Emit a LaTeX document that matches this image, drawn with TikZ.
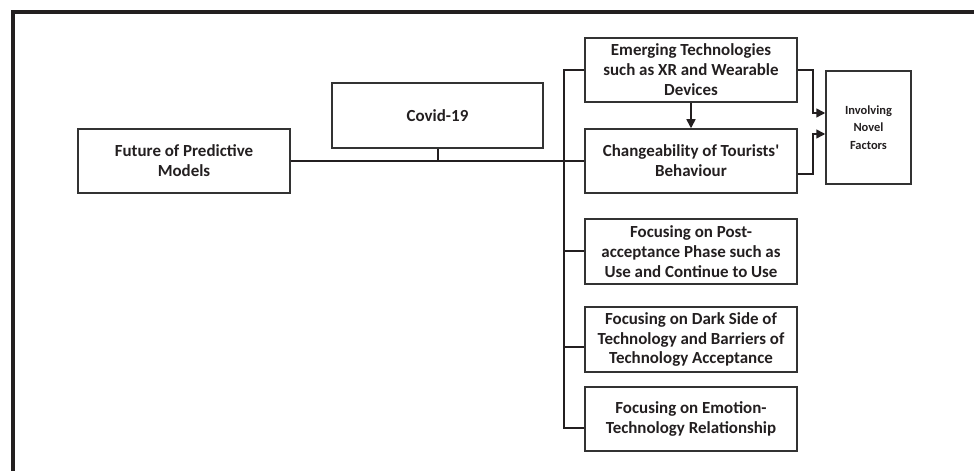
\documentclass[tikz,border=0pt]{standalone}
\usepackage{fontspec}
\setmainfont{Carlito}[Ligatures=TeXOff]
\usetikzlibrary{arrows.meta}
\definecolor{inkgray}{HTML}{231F20}
\definecolor{boxgray}{HTML}{333333}

\begin{document}
\begin{tikzpicture}[x=1bp,y=-1bp,
  box/.style={draw=boxgray, line width=1.5bp, align=center, minimum width=212bp,
    minimum height=64bp, inner sep=2bp, text=inkgray,
    font=\fontsize{17}{20}\selectfont\bfseries},
  link/.style={draw=inkgray, line width=2bp},
  arrow/.style={draw=inkgray, line width=1.5bp, -{Triangle[length=9bp,width=9bp]}},
  frame/.style={draw=inkgray, line width=4bp}]

\useasboundingbox (0,0) rectangle (974,471);
\draw[frame] (13,471) -- (13,12) -- (974,12);

\node[box] (future) at (184,161) {Future of Predictive\\Models};
\node[box, minimum width=211bp, minimum height=65bp] (covid) at (437.5,115.5) {Covid-19};

\node[box] (emerging) at (691,70) {Emerging Technologies\\such as XR and Wearable\\Devices};
\node[box] (change) at (691,161) {Changeability of Tourists'\\Behaviour};
\node[box, minimum height=65bp] (post) at (691,251.5) {Focusing on Post-\\acceptance Phase such as\\Use and Continue to Use};
\node[box, minimum height=65bp] (dark) at (691,339.5) {Focusing on Dark Side of\\Technology and Barriers of\\Technology Acceptance};
\node[box] (emotion) at (691,419) {Focusing on Emotion-\\Technology Relationship};

\node[box, minimum width=85bp, minimum height=113bp,
  font=\fontsize{12.5}{17.5}\selectfont\bfseries] (novel) at (868.5,127.5) {Involving\\Novel\\Factors};

\coordinate (trunk) at (564,0);

\draw[link] (future.east) -- (change.west);
\draw[link] (covid.south) -- (covid.south |- future.east);
\draw[link] (emerging.west) -- (emerging.west -| trunk) -- ([yshift=-9bp]emotion.west -| trunk) -- ([yshift=-9bp]emotion.west);
\draw[link] (post.west -| trunk) -- (post.west);
\draw[link] ([yshift=-8bp]dark.west -| trunk) -- ([yshift=-8bp]dark.west);

\draw[arrow] (emerging.south) -- (change.north);
\draw[arrow] (emerging.east) -- ++(15,0) |- ([yshift=14.5bp]novel.west);
\draw[arrow] ([yshift=-13bp]change.east) -- ++(15,0) |- ([yshift=-6.5bp]novel.west);
\end{tikzpicture}
\end{document}
